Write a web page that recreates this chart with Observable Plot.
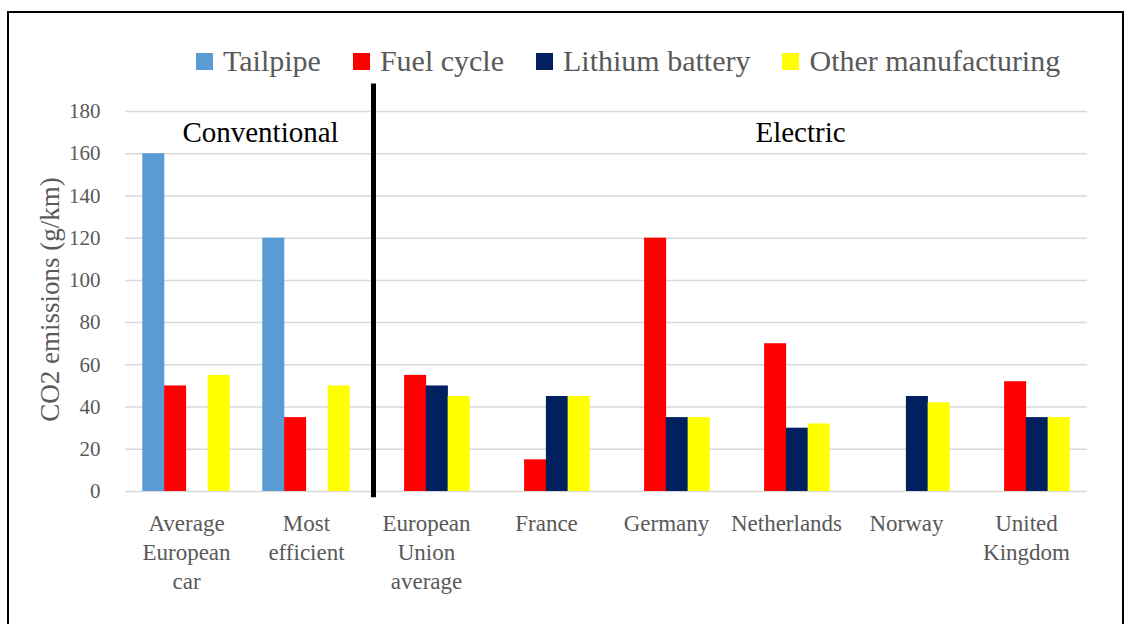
<!DOCTYPE html>
<html><head><meta charset="utf-8">
<script src="https://cdn.jsdelivr.net/npm/d3@7"></script>
<script src="https://cdn.jsdelivr.net/npm/@observablehq/plot@0.6"></script>
<style>
body{margin:0;background:#fff;}
#wrap{position:relative;width:1131px;height:624px;overflow:hidden;}
#frame{position:absolute;left:7px;top:11px;width:1113px;height:700px;border:2px solid #000;}
#legend{position:absolute;left:196px;top:46px;display:flex;gap:32px;line-height:29px;color:#595959;white-space:nowrap;}
.item{display:flex;align-items:center;gap:10px;}
.sw{width:17px;height:17px;position:relative;top:1px;}
#chart{position:absolute;left:0;top:80px;}
</style></head><body>
<div id="wrap"><div id="frame"></div><div id="legend"></div><div id="chart"></div></div>
<script>
const categories = ["Average European car","Most efficient","European Union average","France","Germany","Netherlands","Norway","United Kingdom"];
const categoryLabels = ["Average\nEuropean\ncar","Most\nefficient","European\nUnion\naverage","France","Germany","Netherlands","Norway","United\nKingdom"];
const seriesNames = ["Tailpipe","Fuel cycle","Lithium battery","Other manufacturing"];
const seriesColors = ["#5B9BD5","#FF0000","#002060","#FFFF00"];
const tailpipe = [160,120,0,0,0,0,0,0];
const fuelCycle = [50,35,55,15,120,70,0,52];
const lithiumBattery = [0,0,50,45,35,30,45,35];
const otherManufacturing = [55,50,45,45,35,32,42,35];
const yTicks = [0,20,40,60,80,100,120,140,160,180];
const yLabel = "CO2 emissions (g/km)";
const groupLabels = ["Conventional","Electric"];
const groupAt = ["Average European car","Netherlands"];
const dividerAt = ["European Union average"];

const seriesValues = [tailpipe, fuelCycle, lithiumBattery, otherManufacturing];

// pick an installed serif family and a size factor matched to Times-like metrics
const ctx = document.createElement("canvas").getContext("2d");
function w(font, s) { ctx.font = font; return ctx.measureText(s).width; }
const probe = "Other manufacturing 0123 Wg";
function has(f) {
  return w(`100px "${f}", monospace`, probe) !== w("100px monospace", probe) ||
         w(`100px "${f}", sans-serif`, probe) !== w("100px sans-serif", probe);
}
const candidates = ["Liberation Serif", "Tinos", "Times New Roman", "Times", "DejaVu Serif", "Noto Serif"];
const fam = candidates.find(has) || "serif";
const family = `"${fam}", serif`;
const k = 835.9 / w(`100px ${family}`, "Other manufacturing");
const fs = v => Math.round(v * k * 10) / 10;

// legend
const legend = document.getElementById("legend");
legend.style.fontFamily = family;
legend.style.fontSize = fs(30) + "px";
seriesNames.forEach((s, i) => {
  const it = document.createElement("div"); it.className = "item";
  const sw = document.createElement("div"); sw.className = "sw"; sw.style.background = seriesColors[i];
  const tx = document.createElement("span"); tx.textContent = s;
  it.appendChild(sw); it.appendChild(tx); legend.appendChild(it);
});

const barW = 21.8;
const barMarks = seriesValues.map((vals, i) => {
  const rows = categories.map((c, j) => ({category: c, value: vals[j], series: seriesNames[i]}));
  return Plot.barY(rows, {x: "category", y: "value", fill: seriesColors[i], dx: (i - 1.5) * barW});
});

const chart = Plot.plot({
  width: 1131,
  height: 544,
  marginTop: 31,
  marginBottom: 133,
  marginLeft: 125,
  marginRight: 44,
  style: {fontFamily: family, fontSize: fs(21) + "px", color: "#595959", background: "transparent", overflow: "visible"},
  x: {domain: categories, paddingInner: 0.8187, paddingOuter: 0.40935, axis: null},
  y: {domain: [0, 180], ticks: yTicks, tickSize: 0, tickPadding: 25, label: null},
  marks: [
    Plot.ruleY(yTicks, {stroke: "#D9D9D9", strokeWidth: 1.5}),
    ...barMarks,
    Plot.ruleX(dividerAt, {x: d => d, y1: -3, y2: 193, stroke: "#000", strokeWidth: 5, dx: -53}),
    Plot.text([groupLabels[0]], {x: [groupAt[0]], y: [170], text: d => d, fontSize: fs(29), fill: "#000", dx: 74}),
    Plot.text([groupLabels[1]], {x: [groupAt[1]], y: [170], text: d => d, fontSize: fs(29), fill: "#000", dx: 14}),
    Plot.text(categories, {x: d => d, text: categoryLabels, frameAnchor: "bottom", lineAnchor: "top", dy: 19, fontSize: fs(23), lineHeight: 29 / fs(23), fill: "#595959"}),
    Plot.text([yLabel], {frameAnchor: "left", textAnchor: "middle", rotate: -90, dx: -75, dy: -2, fontSize: fs(27), fill: "#595959"})
  ]
});
document.getElementById("chart").appendChild(chart);
</script>
</body></html>
